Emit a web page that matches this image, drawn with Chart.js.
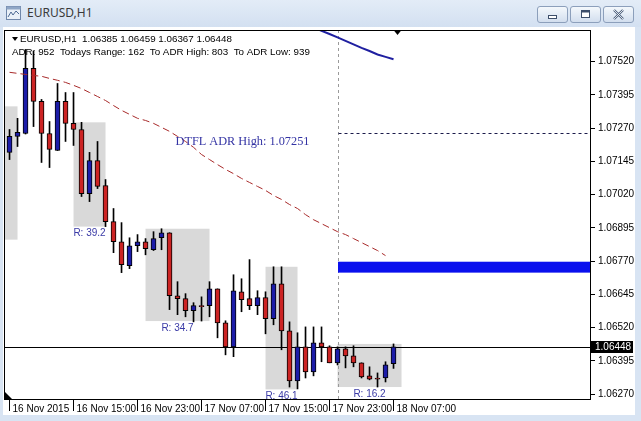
<!DOCTYPE html>
<html>
<head>
<meta charset="utf-8">
<script src="https://cdn.jsdelivr.net/npm/chart.js@4.4.1/dist/chart.umd.min.js"></script>
<style>
  html, body { margin: 0; padding: 0; }
  body { width: 641px; height: 421px; position: relative; overflow: hidden;
         background: #d8e4f3; font-family: "Noto Sans", sans-serif; }
  #titlebar { position: absolute; left: 0; top: 0; width: 641px; height: 27px;
              background: linear-gradient(#e3ecf7, #d3e0f1); }
  #title { position: absolute; left: 27px; top: 4px; font-size: 12px; color: #3a3a3a; }
  #icon { position: absolute; left: 6px; top: 6px; }
  .btn { position: absolute; top: 6px; width: 29px; height: 15px; border: 1px solid #8c9fbb;
         border-radius: 3px; background: linear-gradient(#f4f8fc, #d2deee); }
  .btn svg { position: absolute; left: 0; top: 0; }
  #panel { position: absolute; left: 3px; top: 27px; width: 632px; height: 388px; background: #fff; }
  #panel canvas { position: absolute; left: 0; top: 0; }
</style>
</head>
<body>
<div id="titlebar">
  <svg id="icon" width="15" height="14" viewBox="0 0 15 14">
    <rect x="0.5" y="0.5" width="14" height="13" fill="#e9f0f8" stroke="#6f87aa"/>
    <rect x="0.5" y="0.5" width="14" height="3" fill="#8fa6c6"/>
    <polyline points="2,11 5,6 7,9 10,5 13,8" fill="none" stroke="#4d6a93" stroke-width="1"/>
  </svg>
  <div id="title">EURUSD,H1</div>
  <div class="btn" style="left:537px">
    <svg width="29" height="15"><rect x="10.5" y="8.5" width="8" height="3" fill="#fff" stroke="#3d4f6b"/></svg>
  </div>
  <div class="btn" style="left:570px">
    <svg width="29" height="15"><rect x="10.5" y="3.5" width="8" height="7" fill="#fff" stroke="#3d4f6b"/><rect x="10.5" y="3.5" width="8" height="2" fill="#3d4f6b"/></svg>
  </div>
  <div class="btn" style="left:603px">
    <svg width="29" height="15"><path d="M10 3 L19 12 M19 3 L10 12" stroke="#50627e" stroke-width="2.4"/><path d="M10 3 L19 12 M19 3 L10 12" stroke="#fff" stroke-width="0.8"/></svg>
  </div>
</div>
<div id="panel"><canvas id="chart" width="632" height="388"></canvas></div>
<script>
// hourly bars, 16 Nov 07:00 .. 18 Nov 07:00
var categories = [
  '16 Nov 07:00', '16 Nov 08:00', '16 Nov 09:00', '16 Nov 10:00', '16 Nov 11:00', '16 Nov 12:00',
  '16 Nov 13:00', '16 Nov 14:00', '16 Nov 15:00', '16 Nov 16:00', '16 Nov 17:00', '16 Nov 18:00',
  '16 Nov 19:00', '16 Nov 20:00', '16 Nov 21:00', '16 Nov 22:00', '16 Nov 23:00',
  '17 Nov 00:00', '17 Nov 01:00', '17 Nov 02:00', '17 Nov 03:00', '17 Nov 04:00', '17 Nov 05:00',
  '17 Nov 06:00', '17 Nov 07:00', '17 Nov 08:00', '17 Nov 09:00', '17 Nov 10:00', '17 Nov 11:00',
  '17 Nov 12:00', '17 Nov 13:00', '17 Nov 14:00', '17 Nov 15:00', '17 Nov 16:00', '17 Nov 17:00',
  '17 Nov 18:00', '17 Nov 19:00', '17 Nov 20:00', '17 Nov 21:00', '17 Nov 22:00', '17 Nov 23:00',
  '18 Nov 00:00', '18 Nov 01:00', '18 Nov 02:00', '18 Nov 03:00', '18 Nov 04:00', '18 Nov 05:00',
  '18 Nov 06:00', '18 Nov 07:00'
];

var opens = [
  1.07179, 1.07239, 1.07250, 1.07495, 1.07371, 1.07250, 1.07186, 1.07371, 1.07288, 1.07265,
  1.07024, 1.07148, 1.07054, 1.06919, 1.06843, 1.06753, 1.06828, 1.06843, 1.06813, 1.06858,
  1.06877, 1.06640, 1.06629, 1.06584, 1.06603, 1.06603, 1.06666, 1.06538, 1.06448, 1.06655,
  1.06629, 1.06603, 1.06633, 1.06554, 1.06685, 1.06508, 1.06320, 1.06448, 1.06354, 1.06463,
  1.06448, 1.06388, 1.06441, 1.06414, 1.06388, 1.06339, 1.06331, 1.06331, 1.06385
];
var highs = [
  1.07265, 1.07307, 1.07566, 1.07560, 1.07378, 1.07295, 1.07438, 1.07404, 1.07404, 1.07292,
  1.07179, 1.07220, 1.07077, 1.06968, 1.06915, 1.06858, 1.06870, 1.06855, 1.06881, 1.06892,
  1.06877, 1.06693, 1.06648, 1.06614, 1.06636, 1.06693, 1.06666, 1.06546, 1.06719, 1.06704,
  1.06776, 1.06659, 1.06655, 1.06749, 1.06749, 1.06542, 1.06501, 1.06523, 1.06523, 1.06523,
  1.06452, 1.06448, 1.06448, 1.06452, 1.06388, 1.06373, 1.06350, 1.06392, 1.06459
];
var lows = [
  1.07152, 1.07201, 1.07248, 1.07276, 1.07141, 1.07122, 1.07186, 1.07220, 1.07205, 1.07013,
  1.06994, 1.07043, 1.06900, 1.06802, 1.06727, 1.06742, 1.06806, 1.06794, 1.06810, 1.06813,
  1.06588, 1.06569, 1.06561, 1.06542, 1.06545, 1.06561, 1.06482, 1.06418, 1.06411, 1.06580,
  1.06588, 1.06569, 1.06497, 1.06531, 1.06437, 1.06297, 1.06290, 1.06331, 1.06339, 1.06392,
  1.06388, 1.06380, 1.06369, 1.06373, 1.06331, 1.06324, 1.06297, 1.06316, 1.06367
];
var closes = [
  1.07239, 1.07254, 1.07495, 1.07371, 1.07250, 1.07190, 1.07371, 1.07288, 1.07265, 1.07024,
  1.07148, 1.07051, 1.06919, 1.06843, 1.06757, 1.06828, 1.06843, 1.06817, 1.06855, 1.06877,
  1.06640, 1.06629, 1.06584, 1.06603, 1.06599, 1.06666, 1.06538, 1.06448, 1.06659, 1.06625,
  1.06603, 1.06633, 1.06554, 1.06685, 1.06508, 1.06320, 1.06448, 1.06354, 1.06463, 1.06448,
  1.06388, 1.06441, 1.06414, 1.06388, 1.06335, 1.06327, 1.06327, 1.06380, 1.06448
];

// red dashed moving average (bars 0..47)
var maRed = [
  1.07480, 1.07476, 1.07472, 1.07468, 1.07465, 1.07457, 1.07450, 1.07442, 1.07431, 1.07419,
  1.07404, 1.07389, 1.07374, 1.07355, 1.07337, 1.07322, 1.07307, 1.07299, 1.07288, 1.07273,
  1.07258, 1.07239, 1.07220, 1.07198, 1.07171, 1.07152, 1.07133, 1.07115, 1.07099, 1.07081,
  1.07066, 1.07051, 1.07036, 1.07017, 1.07002, 1.06983, 1.06968, 1.06945, 1.06926, 1.06911,
  1.06896, 1.06881, 1.06870, 1.06855, 1.06840, 1.06825, 1.06810, 1.06791
];
// blue line, bars 36..48
var blueStart = 36;
var blueLine = [1.07680, 1.07665, 1.07649, 1.07636, 1.07624, 1.07611, 1.07598,
                1.07585, 1.07572, 1.07560, 1.07547, 1.07538, 1.07529];

// session range boxes (bar index from/to, high, low, label)
var boxStart = [-7, 8, 17, 32, 41];
var boxEnd = [1, 12, 25, 36, 49];
var boxHigh = [1.07352, 1.07292, 1.06892, 1.06749, 1.06459];
var boxLow = [1.06851, 1.06900, 1.06545, 1.06288, 1.06297];
var boxLabels = [null, 'R: 39.2', 'R: 34.7', 'R: 46.1', 'R: 16.2'];

var dayStart = 41;            // 18 Nov 00:00
var adrHigh = 1.07251;
var adrBand = [1.06727, 1.06768];
var adrText = 'DTFL ADR High: 1.07251';
var adrTextAt = [20.75, 1.07220];
var infoLine = 'ADR: 952  Todays Range: 162  To ADR High: 803  To ADR Low: 939';

var tickIndex = [0, 8, 16, 24, 32, 40, 48];
var tickLabels = ['16 Nov 2015', '16 Nov 15:00', '16 Nov 23:00', '17 Nov 07:00',
                  '17 Nov 15:00', '17 Nov 23:00', '18 Nov 07:00'];
var yTicks = [1.06270, 1.06395, 1.06520, 1.06645, 1.06770, 1.06895,
              1.07020, 1.07145, 1.07270, 1.07395, 1.07520];
var yMin = 1.06252, yMax = 1.07639;

var last = closes.length - 1;
var bull = '#1c1ca8', bear = '#cc2424';

var wicks = categories.map(function (c, i) { return {x: i, y: [lows[i], highs[i]]}; });
var bodies = categories.map(function (c, i) { return {x: i, y: [opens[i], closes[i]]}; });
var bodyColors = categories.map(function (c, i) { return closes[i] >= opens[i] ? bull : bear; });
var maPoints = maRed.map(function (v, i) { return {x: i, y: v}; });
var bluePoints = blueLine.map(function (v, i) { return {x: blueStart + i, y: v}; });

Chart.defaults.font.family = '"Liberation Sans", Arial, sans-serif';
Chart.defaults.font.size = 10;
Chart.defaults.color = '#000';

var overlay = {
  id: 'overlay',
  beforeDatasetsDraw: function (chart) {
    var ctx = chart.ctx, a = chart.chartArea, x = chart.scales.x, y = chart.scales.y;
    ctx.save();
    ctx.beginPath();
    ctx.rect(a.left, a.top, a.right - a.left, a.bottom - a.top);
    ctx.clip();

    ctx.fillStyle = '#d9d9d9';
    for (var i = 0; i < boxStart.length; i++) {
      var x0 = x.getPixelForValue(boxStart[i]), x1 = x.getPixelForValue(boxEnd[i]);
      var y0 = y.getPixelForValue(boxHigh[i]), y1 = y.getPixelForValue(boxLow[i]);
      ctx.fillRect(x0, y0, x1 - x0, y1 - y0);
    }

    var xd = Math.round(x.getPixelForValue(dayStart)) + 0.5;
    ctx.strokeStyle = '#9a9a9a';
    ctx.lineWidth = 1;
    ctx.setLineDash([3, 3]);
    ctx.beginPath(); ctx.moveTo(xd, a.top); ctx.lineTo(xd, a.bottom); ctx.stroke();

    var ya = Math.round(y.getPixelForValue(adrHigh)) + 0.5;
    ctx.strokeStyle = '#1a1a4a';
    ctx.beginPath(); ctx.moveTo(xd, ya); ctx.lineTo(a.right, ya); ctx.stroke();
    ctx.setLineDash([]);

    var yb0 = y.getPixelForValue(adrBand[1]), yb1 = y.getPixelForValue(adrBand[0]);
    ctx.fillStyle = '#0a10ee';
    ctx.fillRect(xd - 0.5, yb0, a.right - xd, yb1 - yb0);

    var yc = Math.round(y.getPixelForValue(closes[last])) + 0.5;
    ctx.strokeStyle = '#000';
    ctx.beginPath(); ctx.moveTo(a.left, yc); ctx.lineTo(a.right, yc); ctx.stroke();
    ctx.restore();
  },
  afterDatasetsDraw: function (chart) {
    var ctx = chart.ctx, a = chart.chartArea, x = chart.scales.x, y = chart.scales.y;
    ctx.save();
    ctx.textBaseline = 'middle';

    // range labels under the boxes
    ctx.font = '10px "Liberation Sans", Arial, sans-serif';
    ctx.fillStyle = '#3a3aa6';
    ctx.textAlign = 'center';
    for (var i = 0; i < boxStart.length; i++) {
      if (!boxLabels[i]) continue;
      var cx = (x.getPixelForValue(boxStart[i]) + x.getPixelForValue(boxEnd[i])) / 2;
      ctx.fillText(boxLabels[i], cx, y.getPixelForValue(boxLow[i]) + 7);
    }

    ctx.font = '12.3px "Liberation Serif", "Times New Roman", serif';
    ctx.fillStyle = '#3434a4';
    ctx.textAlign = 'left';
    ctx.fillText(adrText, x.getPixelForValue(adrTextAt[0]), y.getPixelForValue(adrTextAt[1]));

    // header lines
    ctx.font = '9.8px "Liberation Sans", Arial, sans-serif';
    ctx.fillStyle = '#000';
    var hx = a.left + 8;
    ctx.beginPath();
    ctx.moveTo(hx, a.top + 7); ctx.lineTo(hx + 6, a.top + 7); ctx.lineTo(hx + 3, a.top + 11);
    ctx.closePath(); ctx.fill();
    ctx.fillText('EURUSD,H1  ' + [opens[last], highs[last], lows[last], closes[last]]
      .map(function (v) { return v.toFixed(5); }).join(' '), hx + 8, a.top + 9);
    ctx.fillText(infoLine, hx, a.top + 22.5);

    // shift marker at top
    var sx = x.getPixelForValue(last + 0.5);
    ctx.beginPath();
    ctx.moveTo(sx - 4, a.top); ctx.lineTo(sx + 4, a.top); ctx.lineTo(sx, a.top + 5);
    ctx.closePath(); ctx.fill();

    // corner marker
    ctx.beginPath();
    ctx.moveTo(a.left + 1, a.bottom - 7); ctx.lineTo(a.left + 1, a.bottom); ctx.lineTo(a.left + 8, a.bottom);
    ctx.closePath(); ctx.fill();

    // frame
    ctx.strokeStyle = '#000';
    ctx.lineWidth = 1;
    ctx.strokeRect(Math.round(a.left) + 0.5, Math.round(a.top) + 0.5,
                   Math.round(a.right - a.left) - 1, Math.round(a.bottom - a.top));
    ctx.restore();
  },
  afterDraw: function (chart) {
    var ctx = chart.ctx, a = chart.chartArea, y = chart.scales.y;
    var yc = Math.round(y.getPixelForValue(closes[last]));
    ctx.save();
    ctx.fillStyle = '#000';
    ctx.fillRect(a.right, yc - 6, 42, 12);
    ctx.fillStyle = '#fff';
    ctx.font = '10px "Liberation Sans", Arial, sans-serif';
    ctx.textBaseline = 'middle';
    ctx.textAlign = 'left';
    ctx.fillText(closes[last].toFixed(5), a.right + 4, yc);
    ctx.restore();
  }
};

var ctx = document.getElementById('chart').getContext('2d');
var chart = new Chart(ctx, {
  type: 'bar',
  data: {
    datasets: [
      { type: 'line', data: bluePoints, borderColor: '#1f1fa0', borderWidth: 2,
        pointRadius: 0, tension: 0, order: 0 },
      { type: 'line', data: maPoints, borderColor: '#a82a2a', borderWidth: 1,
        borderDash: [7, 4], pointRadius: 0, tension: 0, order: 0 },
      { data: bodies, backgroundColor: bodyColors, borderColor: '#000', borderWidth: 1,
        borderSkipped: false, barThickness: 5, grouped: false, order: 1 },
      { data: wicks, backgroundColor: '#000', borderWidth: 0,
        barThickness: 1, grouped: false, order: 2 }
    ]
  },
  options: {
    responsive: false,
    animation: false,
    devicePixelRatio: 1,
    layout: { padding: { left: 1, top: 3, right: 0, bottom: 0 } },
    plugins: { legend: { display: false }, tooltip: { enabled: false } },
    scales: {
      x: {
        type: 'linear', offset: false, min: -0.69, max: 72.685,
        afterBuildTicks: function (s) { s.ticks = tickIndex.map(function (v) { return {value: v}; }); },
        afterFit: function (s) { s.height = 16; s.paddingLeft = 0; s.paddingRight = 0; },
        grid: { drawOnChartArea: false, drawTicks: true, tickLength: 12, color: '#000', offset: false },
        border: { display: false },
        ticks: {
          autoSkip: false, maxRotation: 0, align: 'start', labelOffset: 3, padding: -8,
          callback: function (v) { return tickLabels[tickIndex.indexOf(v)]; }
        }
      },
      y: {
        position: 'right', min: yMin, max: yMax,
        afterBuildTicks: function (s) { s.ticks = yTicks.map(function (v) { return {value: v}; }); },
        afterFit: function (s) { s.width = 44; s.paddingTop = 0; s.paddingBottom = 0; },
        grid: { drawOnChartArea: false, drawTicks: true, tickLength: 4, color: '#000' },
        border: { display: false },
        ticks: { autoSkip: false, padding: 3, callback: function (v) { return v.toFixed(5); } }
      }
    }
  },
  plugins: [overlay]
});
</script>
</body>
</html>
